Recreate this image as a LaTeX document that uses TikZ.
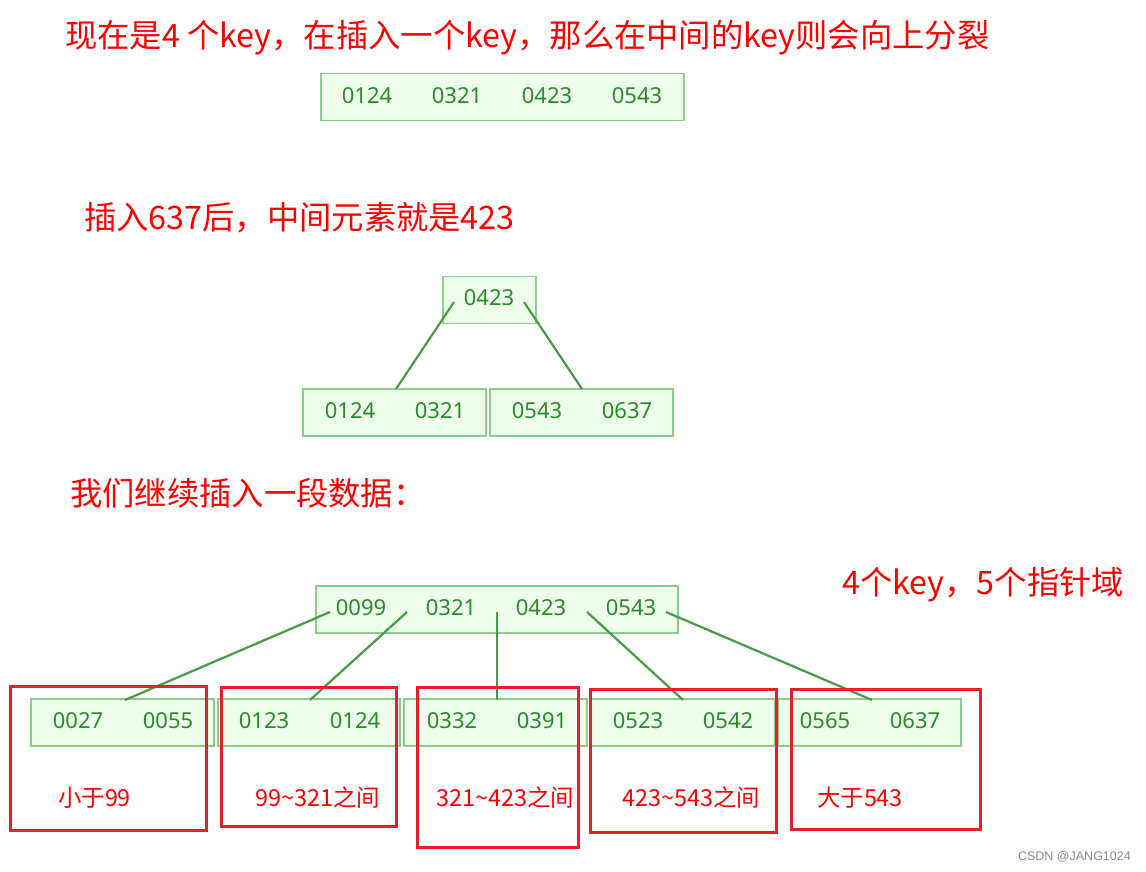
\documentclass[tikz,border=0pt]{standalone}
\usepackage{fontspec}
\setmainfont{Noto Sans}
\newfontfamily\cjk{Noto Sans CJK SC}
\newfontfamily\wm{Liberation Sans}
\definecolor{boxfill}{RGB}{238,252,236}
\definecolor{boxline}{RGB}{140,205,140}
\definecolor{keygreen}{RGB}{40,140,40}
\definecolor{linkgreen}{RGB}{70,155,70}
\definecolor{titlered}{RGB}{255,0,0}
\definecolor{framered}{RGB}{232,30,40}
\tikzset{
  keybox/.style={draw=boxline, fill=boxfill, line width=1.6pt, inner sep=0pt, minimum height=47pt},
  keytxt/.style={text=keygreen, font=\fontsize{22}{25}\selectfont, inner sep=0pt},
  title/.style={text=titlered, font=\cjk\fontsize{32.3}{38}\selectfont, anchor=west, inner sep=0pt},
  rangelbl/.style={text=titlered, font=\cjk\fontsize{23.4}{27}\selectfont, anchor=west, inner sep=0pt},
  rangebox/.style={draw=framered, line width=3pt},
  link/.style={draw=linkgreen, line width=2.2pt}
}
\begin{document}
\begin{tikzpicture}[x=1pt,y=-1pt]
\useasboundingbox[fill=white] (0,0) rectangle (1146,872);

% ---- Part 1 ----
\node[title] (t1) at (65,38) {现在是4 个key，在插入一个key，那么在中间的key则会向上分裂};
\node[keybox, minimum width=363pt] (b1) at (502.5,97) {};
\node[keytxt] (b1k1) at (367,96) {0124};
\node[keytxt] (b1k2) at (457,96) {0321};
\node[keytxt] (b1k3) at (547,96) {0423};
\node[keytxt] (b1k4) at (637,96) {0543};

% ---- Part 2 ----
\node[title] (t2) at (84,218) {插入637后，中间元素就是423};
\node[keybox, minimum width=93pt] (r2) at (489.5,300) {};
\node[keytxt] (r2k1) at (489,298) {0423};
\node[keybox, minimum width=183pt] (l2) at (394.5,412.5) {};
\node[keytxt] (l2k1) at (350,411) {0124};
\node[keytxt] (l2k2) at (440,411) {0321};
\node[keybox, minimum width=183pt] (m2) at (581.5,412.5) {};
\node[keytxt] (m2k1) at (537,411) {0543};
\node[keytxt] (m2k2) at (627,411) {0637};
\coordinate (p2a) at (454,302);
\coordinate (p2b) at (524,302);
\coordinate (c2a) at (396,389);
\coordinate (c2b) at (582,389);
\draw[link] (p2a) -- (c2a);
\draw[link] (p2b) -- (c2b);

% ---- Part 3 ----
\node[title] (t3) at (70,493) {我们继续插入一段数据：};
\node[title] (t4) at (842,585) {4个key，5个指针域};

\node[keybox, minimum width=362pt] (r3) at (497,609.5) {};
\node[keytxt] (r3k1) at (361,608) {0099};
\node[keytxt] (r3k2) at (451,608) {0321};
\node[keytxt] (r3k3) at (541,608) {0423};
\node[keytxt] (r3k4) at (631,608) {0543};

\node[keybox, minimum width=183pt] (f1) at (122.5,722.5) {};
\node[keytxt] (f1k1) at (78,721) {0027};
\node[keytxt] (f1k2) at (168,721) {0055};
\node[keybox, minimum width=182pt] (f2) at (309,722.5) {};
\node[keytxt] (f2k1) at (264,721) {0123};
\node[keytxt] (f2k2) at (355,721) {0124};
\node[keybox, minimum width=183pt] (f3) at (495.5,722.5) {};
\node[keytxt] (f3k1) at (452,721) {0332};
\node[keytxt] (f3k2) at (542,721) {0391};
\node[keybox, minimum width=184pt] (f4) at (683,722.5) {};
\node[keytxt] (f4k1) at (638,721) {0523};
\node[keytxt] (f4k2) at (728,721) {0542};
\node[keybox, minimum width=183pt] (f5) at (869.5,722.5) {};
\node[keytxt] (f5k1) at (825,721) {0565};
\node[keytxt] (f5k2) at (915,721) {0637};

\coordinate (s1) at (330,612);
\coordinate (s2) at (407,612);
\coordinate (s3) at (497,612);
\coordinate (s4) at (587,612);
\coordinate (s5) at (666,612);
\coordinate (e1) at (125,700);
\coordinate (e2) at (310,700);
\coordinate (e3) at (497,700);
\coordinate (e4) at (683,700);
\coordinate (e5) at (872,700);
\draw[link] (s1) -- (e1);
\draw[link] (s2) -- (e2);
\draw[link] (s3) -- (e3);
\draw[link] (s4) -- (e4);
\draw[link] (s5) -- (e5);

\draw[rangebox] (10,686) rectangle (206,830);
\draw[rangebox] (221,687) rectangle (396,826);
\draw[rangebox] (417,687) rectangle (578,847);
\draw[rangebox] (590,689) rectangle (776,832);
\draw[rangebox] (791,689) rectangle (980,829);

\node[rangelbl] (g1) at (58,798) {小于99};
\node[rangelbl] (g2) at (255,798) {99\textasciitilde321之间};
\node[rangelbl] (g3) at (436,798) {321\textasciitilde423之间};
\node[rangelbl] (g4) at (622,798) {423\textasciitilde543之间};
\node[rangelbl] (g5) at (817,798) {大于543};

\node[text=black!45, font=\wm\fontsize{12.5}{14}\selectfont, anchor=east, inner sep=0pt] (wm) at (1131,857) {CSDN @JANG1024};
\end{tikzpicture}
\end{document}
